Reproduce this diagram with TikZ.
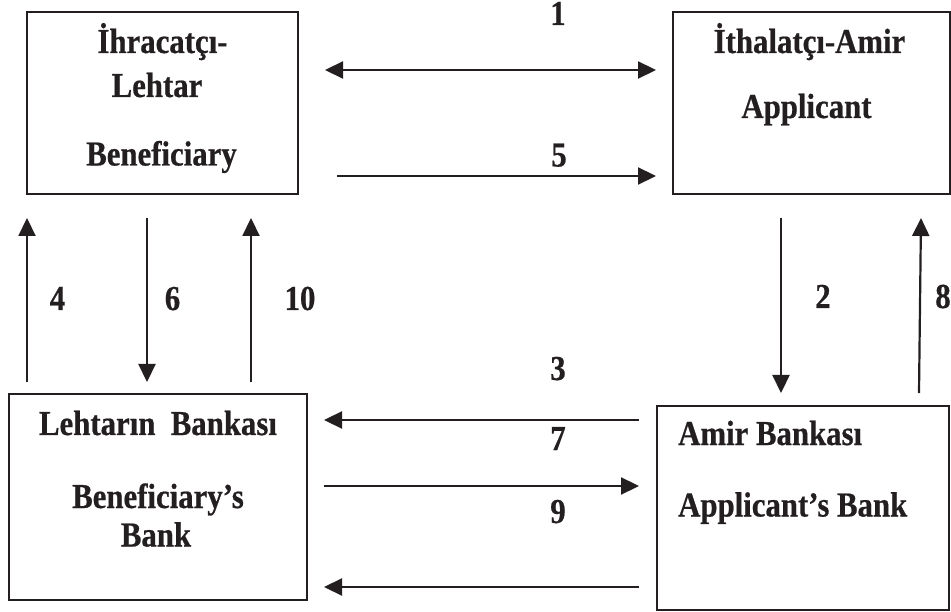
\documentclass[tikz,border=0pt]{standalone}
\usepackage{fontspec}
\setmainfont{Liberation Serif}[FakeStretch=0.88,FakeBold=0.6]
\usetikzlibrary{arrows.meta}
\definecolor{ink}{HTML}{231F20}
\tikzset{
  party/.style={draw=ink, line width=1.4pt, rectangle, inner sep=0pt},
  txt/.style={anchor=base, inner sep=0pt, text=ink,
    font=\fontsize{35}{40}\selectfont\bfseries},
  txtl/.style={txt, anchor=base west},
  num/.style={txt},
  tip/.style={Triangle[length=18pt,width=17pt]},
  flow/.style={draw=ink, line width=2.2pt, -{Triangle[length=18pt,width=17pt]}},
  flowboth/.style={draw=ink, line width=2.2pt,
    {Triangle[length=18pt,width=17pt]}-{Triangle[length=18pt,width=17pt]}},
}
\begin{document}
\begin{tikzpicture}[x=1pt,y=-1pt]
\useasboundingbox (0,0) rectangle (951,612);

% the four parties
\node[party, minimum width=271pt, minimum height=182pt] (ben)  at (162.5,103) {};
\node[party, minimum width=277pt, minimum height=182pt] (app)  at (811.5,103) {};
\node[party, minimum width=298pt, minimum height=206pt] (benb) at (158,497) {};
\node[party, minimum width=292pt, minimum height=204pt] (appb) at (803,508) {};

% their titles
\node[txt] (ben1) at (162.5,53) {İhracatçı-};
\node[txt] (ben2) at (157,97) {Lehtar};
\node[txt] (ben3) at (161.5,165.5) {Beneficiary};
\node[txt] (app1) at (809.5,53) {İthalatçı-Amir};
\node[txt] (app2) at (806.5,118) {Applicant};
\node[txt] (bb1) at (158,435) {Lehtarın\ \ Bankası};
\node[txt] (bb2) at (158,508) {Beneficiary’s};
\node[txt] (bb3) at (156,546.5) {Bank};
\node[txtl] (ab1) at (678,445) {Amir Bankası};
\node[txtl] (ab2) at (678,516.5) {Applicant’s Bank};

% end points of the flows
\coordinate (f1a) at (325,70);  \coordinate (f1b) at (656,70);
\coordinate (f5a) at (337,176); \coordinate (f5b) at (656,176);
\coordinate (f3a) at (639,420); \coordinate (f3b) at (324,420);
\coordinate (f7a) at (324,486); \coordinate (f7b) at (639,486);
\coordinate (f9a) at (639,587); \coordinate (f9b) at (324,587);
\coordinate (f4a) at (27,382);  \coordinate (f4b) at (27,218);
\coordinate (f6a) at (147,218); \coordinate (f6b) at (147,382);
\coordinate (f10a) at (251,382); \coordinate (f10b) at (251,218);
\coordinate (f2a) at (781,218); \coordinate (f2b) at (781,393);
\coordinate (f8a) at (919,393); \coordinate (f8b) at (921,218);

% the flows
\draw[flowboth] (f1a) -- (f1b);
\draw[flow] (f5a) -- (f5b);
\draw[flow] (f3a) -- (f3b);
\draw[flow] (f7a) -- (f7b);
\draw[flow] (f9a) -- (f9b);
\draw[flow] (f4a) -- (f4b);
\draw[flow] (f6a) -- (f6b);
\draw[flow] (f10a) -- (f10b);
\draw[flow] (f2a) -- (f2b);
\draw[flow] (f8a) -- (f8b);

% step numbers
\node[num] (n1) at (558,25) {1};
\node[num] (n5) at (559,166.5) {5};
\node[num] (n3) at (558,380) {3};
\node[num] (n7) at (558,450) {7};
\node[num] (n9) at (558,523) {9};
\node[num] (n4) at (57.5,310) {4};
\node[num] (n6) at (172.5,310) {6};
\node[num] (n10) at (300,310) {10};
\node[num] (n2) at (823,308) {2};
\node[num] (n8) at (943,308) {8};
\end{tikzpicture}
\end{document}
